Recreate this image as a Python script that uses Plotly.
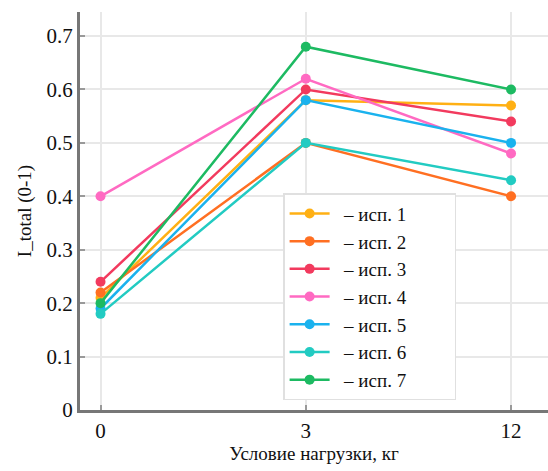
import plotly.graph_objects as go

categories = ["0", "3", "12"]
series_names = ["– исп. 1", "– исп. 2", "– исп. 3", "– исп. 4", "– исп. 5", "– исп. 6", "– исп. 7"]
isp1 = [0.21, 0.58, 0.57]
isp2 = [0.22, 0.50, 0.40]
isp3 = [0.24, 0.60, 0.54]
isp4 = [0.40, 0.62, 0.48]
isp5 = [0.19, 0.58, 0.50]
isp6 = [0.18, 0.50, 0.43]
isp7 = [0.20, 0.68, 0.60]
colors = ["#FFB014", "#FF6F22", "#F23A5E", "#FF6AC2", "#1AB2EE", "#22CBC2", "#1DBA62"]
y_ticks = [0, 0.1, 0.2, 0.3, 0.4, 0.5, 0.6, 0.7]
y_tick_text = ["0", "0.1", "0.2", "0.3", "0.4", "0.5", "0.6", "0.7"]

all_series = [isp1, isp2, isp3, isp4, isp5, isp6, isp7]
SERIF = "Liberation Serif"
PAD = "\u00a0" * 9

fig = go.Figure()
for name, vals, c in zip(series_names, all_series, colors):
    fig.add_trace(go.Scatter(
        x=categories, y=vals, name="\u00a0\u00a0" + name + PAD, mode="lines+markers",
        line=dict(color=c, width=2.5),
        marker=dict(color=c, size=10),
    ))

fig.update_layout(
    width=548, height=471,
    margin=dict(l=80, r=0, t=12, b=61),
    paper_bgcolor="white", plot_bgcolor="white",
    font=dict(family=SERIF, color="#111", size=20),
    showlegend=True,
    legend=dict(
        x=0.434, y=0.545, xanchor="left", yanchor="top",
        bgcolor="white", bordercolor="#e0e0e0", borderwidth=1.5,
        font=dict(size=19, family=SERIF, color="#111"),
        itemwidth=40, tracegroupgap=0,
    ),
    xaxis=dict(
        type="category", range=[-0.1, 2.18],
        title=dict(text="Условие нагрузки, кг", font=dict(size=19, family=SERIF), standoff=4),
        showgrid=True, gridcolor="#e8e8e8", gridwidth=1.5,
        showline=True, linecolor="#777", linewidth=3,
        ticks="inside", ticklen=5, tickcolor="#999", tickwidth=1.5,
        tickfont=dict(size=21, family=SERIF), zeroline=False,
    ),
    yaxis=dict(
        range=[0, 0.745], tickvals=y_ticks, ticktext=y_tick_text,
        title=dict(text="I_total (0-1)", font=dict(size=19, family=SERIF), standoff=10),
        showgrid=True, gridcolor="#e8e8e8", gridwidth=1.5,
        showline=True, linecolor="#777", linewidth=3,
        ticks="inside", ticklen=5, tickcolor="#999", tickwidth=1.5,
        tickfont=dict(size=21, family=SERIF), zeroline=False,
    ),
)

fig.write_html("out.html", config={"displayModeBar": False},
               post_script="document.body.style.margin='0';")
